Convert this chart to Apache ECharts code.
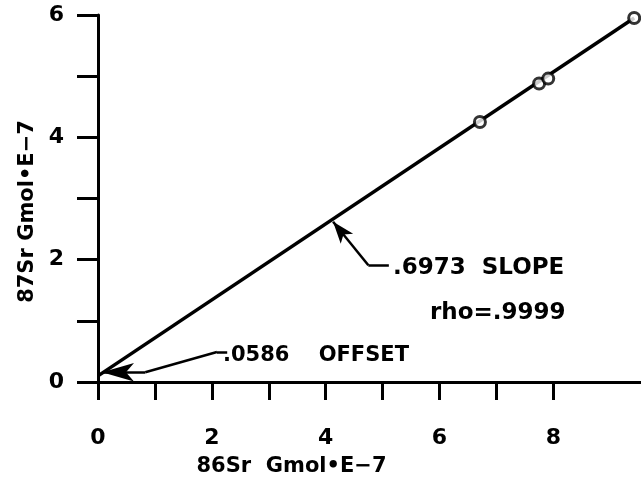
<!DOCTYPE html>
<html>
<head>
<meta charset="utf-8">
<script src="https://cdn.jsdelivr.net/npm/echarts@6/dist/echarts.min.js"></script>
<style>
  html, body { margin: 0; padding: 0; background: #fff; }
  #chart { width: 641px; height: 482px; }
</style>
</head>
<body>
<div id="chart"></div>
<script>
// measured samples (86Sr, 87Sr)
const samples = [[6.71, 4.25], [7.75, 4.88], [7.91, 4.96], [9.42, 5.95]]
// regression line end points
const fitLine = [[0, 0.1], [9.42, 5.95]]
// leader lines for the annotations, in axis units
const slopeLeader = [[5.11, 1.91], [4.75, 1.91], [4.13, 2.62]]
const offsetLeader = [[2.27, 0.49], [2.09, 0.49], [0.83, 0.16], [0.07, 0.16]]
const xTicks = [0, 1, 2, 3, 4, 5, 6, 7, 8]
const xLabels = [0, 2, 4, 6, 8]
const yLabels = [0, 2, 4, 6]

const font = 'DejaVu Sans'

function leaderSegments(pts, arrowSize) {
  const segs = []
  for (let i = 0; i < pts.length - 1; i++) {
    const last = i === pts.length - 2
    segs.push([
      { coord: pts[i], symbol: 'none' },
      { coord: pts[i + 1], symbol: last ? 'arrow' : 'none', symbolSize: arrowSize }
    ])
  }
  return segs
}

const chart = echarts.init(document.getElementById('chart'))
chart.setOption({
  backgroundColor: '#fff',
  animation: false,
  grid: { left: 98, top: 15, right: 0, bottom: 97 },
  xAxis: {
    type: 'value',
    min: 0,
    max: 9.54,
    name: '86Sr  Gmol•E−7',
    nameLocation: 'middle',
    nameGap: 74,
    nameTextStyle: { fontFamily: font, fontWeight: 'bold', fontSize: 21, color: '#000', padding: [0, 156, 0, 0] },
    axisLine: { lineStyle: { color: '#000', width: 3 } },
    axisTick: { customValues: xTicks, length: 18, lineStyle: { color: '#000', width: 3 } },
    axisLabel: { customValues: xLabels, margin: 45, fontFamily: font, fontWeight: 'bold', fontSize: 22, color: '#000' },
    splitLine: { show: false }
  },
  yAxis: {
    type: 'value',
    min: 0,
    max: 6,
    interval: 1,
    name: '87Sr Gmol•E−7',
    nameLocation: 'middle',
    nameGap: 60,
    nameTextStyle: { fontFamily: font, fontWeight: 'bold', fontSize: 21, color: '#000', padding: [0, 26, 0, 0] },
    axisLine: { lineStyle: { color: '#000', width: 3 } },
    axisTick: { length: 21, lineStyle: { color: '#000', width: 3 } },
    axisLabel: {
      customValues: yLabels,
      margin: 34,
      fontFamily: font, fontWeight: 'bold', fontSize: 22, color: '#000'
    },
    splitLine: { show: false }
  },
  series: [
    {
      type: 'line',
      data: fitLine,
      showSymbol: false,
      lineStyle: { color: '#000', width: 3.5 },
      silent: true,
      z: 2,
      markLine: {
        silent: true,
        animation: false,
        label: { show: false },
        lineStyle: { color: '#000', width: 2.5, type: 'solid' },
        data: leaderSegments(slopeLeader, [12, 22]).concat(leaderSegments(offsetLeader, [14, 32]))
      }
    },
    {
      type: 'scatter',
      data: samples,
      symbol: 'circle',
      symbolSize: 11,
      itemStyle: { color: '#fff', borderColor: '#000', borderWidth: 3 },
      z: 3
    }
  ],
  graphic: [
    { type: 'text', left: 393, top: 257, style: { text: '.6973  SLOPE', font: 'bold 23px "DejaVu Sans"', fill: '#000' } },
    { type: 'text', left: 430, top: 302, style: { text: 'rho=.9999', font: 'bold 23px "DejaVu Sans"', fill: '#000' } },
    { type: 'text', left: 223, top: 345, style: { text: '.0586    OFFSET', font: 'bold 21px "DejaVu Sans"', fill: '#000' } }
  ]
})
</script>
</body>
</html>
